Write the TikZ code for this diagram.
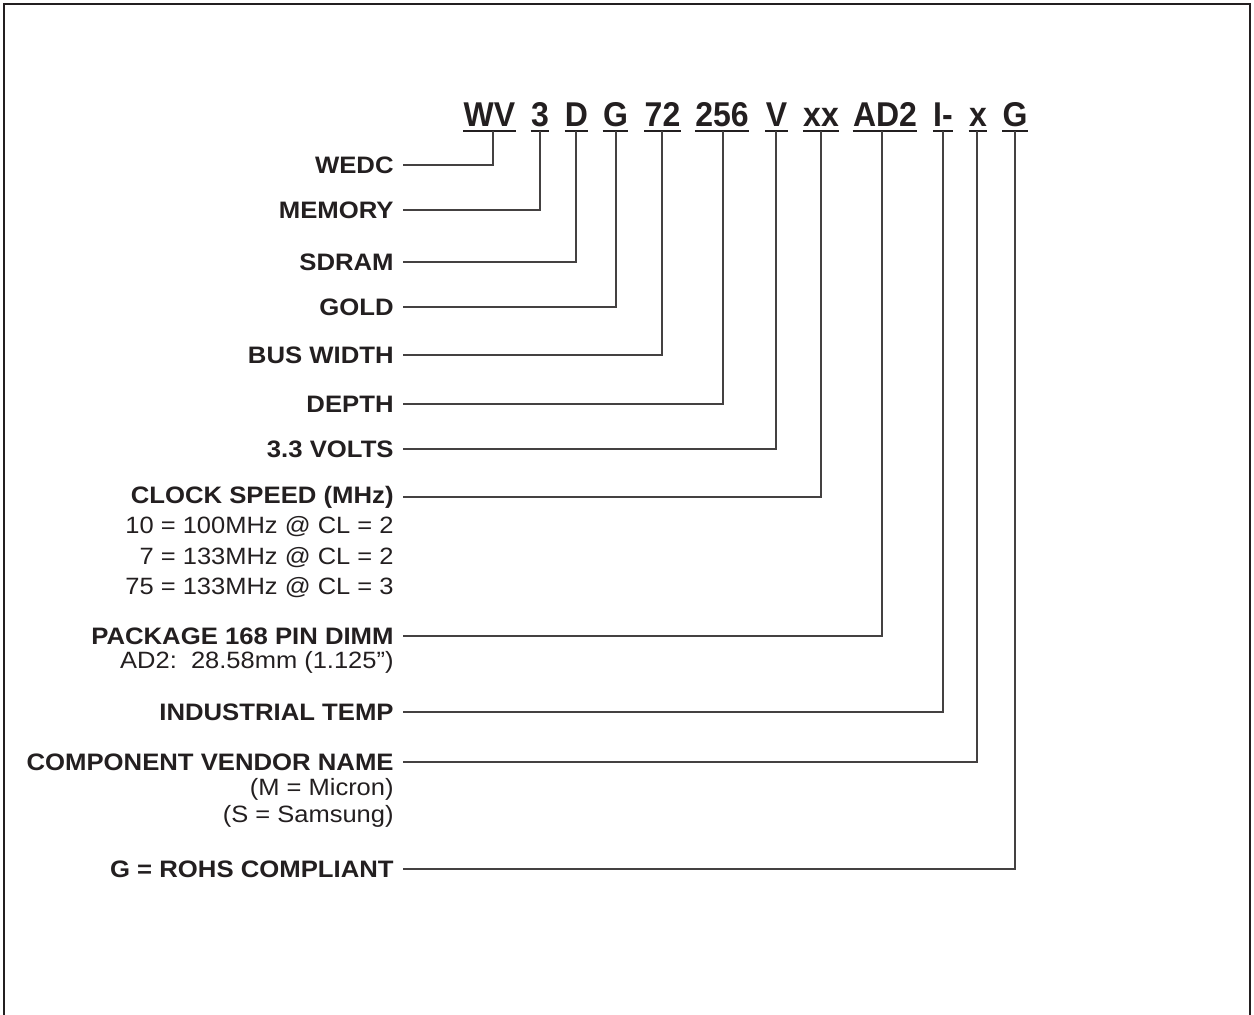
\documentclass[tikz,border=0pt]{standalone}
\usepackage{fontspec}
\setmainfont{Liberation Sans}[FakeStretch=1.08]
\newfontfamily\codefont{Liberation Sans}[FakeStretch=0.93]
\usepackage{tikz}
\definecolor{ink}{HTML}{231F20}
\tikzset{
  part/.style={inner sep=0pt, anchor=base, text=ink, font=\codefont\fontsize{17.2}{19}\selectfont\bfseries},
  field/.style={anchor=east, inner xsep=4.5pt, inner ysep=0pt, text=ink, font=\fontsize{11.9}{13}\selectfont\bfseries},
  note/.style={anchor=east, inner xsep=4.5pt, inner ysep=0pt, text=ink, font=\fontsize{11.8}{13}\selectfont},
  uline/.style={draw=ink, line width=1.35pt},
  lead/.style={draw=ink!85, line width=0.6pt},
}

\begin{document}
\begin{tikzpicture}[x=0.5pt,y=-0.5pt]
    \useasboundingbox (0,0) rectangle (1254,1015);
    \draw[ink, line width=1pt] (4,1015) -- (4,4) -- (1250,4) -- (1250,1015);

    % part number
    \node[part] (WV) at (489.5,127) {WV};
    \node[part] (three) at (540,127) {3};
    \node[part] (D) at (576.5,127) {D};
    \node[part] (G) at (615.5,127) {G};
    \node[part] (bw) at (662.5,127) {72};
    \node[part] (dp) at (722,127) {256};
    \node[part] (V) at (776.5,127) {V};
    \node[part] (xx) at (821,127) {xx};
    \node[part] (AD) at (885,127) {AD2};
    \node[part] (I) at (943,127) {I-};
    \node[part] (x) at (978,127) {x};
    \node[part] (Gr) at (1015,127) {G};
    \foreach \p in {WV,three,D,G,bw,dp,V,xx,AD,I,x,Gr}
        \draw[uline] ([yshift=-2pt]\p.base west) -- ([yshift=-2pt]\p.base east);

    % stems under the part number
    \coordinate (sWV) at (493,131);
    \coordinate (sthree) at (540,131);
    \coordinate (sD) at (576,131);
    \coordinate (sG) at (616,131);
    \coordinate (sbw) at (662,131);
    \coordinate (sdp) at (723,131);
    \coordinate (sV) at (776,131);
    \coordinate (sxx) at (821,131);
    \coordinate (sAD) at (882,131);
    \coordinate (sI) at (943,131);
    \coordinate (sx) at (977,131);
    \coordinate (sGr) at (1015,131);

    % fields
    \node[field] (wedc) at (403,165) {WEDC};
    \node[field] (mem) at (403,210) {MEMORY};
    \node[field] (sdram) at (403,262) {SDRAM};
    \node[field] (gold) at (403,307) {GOLD};
    \node[field] (bus) at (403,355) {BUS WIDTH};
    \node[field] (depth) at (403,404) {DEPTH};
    \node[field] (volts) at (403,449) {3.3 VOLTS};
    \node[field] (clk) at (403,497) {CLOCK SPEED (MHz)};
    \node[note] (clk1) at (403,527) {10 = 100MHz @ CL = 2};
    \node[note] (clk2) at (403,558) {7 = 133MHz @ CL = 2};
    \node[note] (clk3) at (403,588) {75 = 133MHz @ CL = 3};
    \node[field] (pkg) at (403,636) {PACKAGE 168 PIN DIMM};
    \node[note] (pkg1) at (403,662) {AD2:\ \ 28.58mm\ (1.125”)};
    \node[field] (temp) at (403,712) {INDUSTRIAL TEMP};
    \node[field] (vend) at (403,762) {COMPONENT VENDOR NAME};
    \node[note] (vend1) at (403,789) {(M\ = Micron)};
    \node[note] (vend2) at (403,816) {(S = Samsung)};
    \node[field] (rohs) at (403,869) {G = ROHS COMPLIANT};

    % leaders
    \draw[lead] (wedc.east) -| (sWV);
    \draw[lead] (mem.east) -| (sthree);
    \draw[lead] (sdram.east) -| (sD);
    \draw[lead] (gold.east) -| (sG);
    \draw[lead] (bus.east) -| (sbw);
    \draw[lead] (depth.east) -| (sdp);
    \draw[lead] (volts.east) -| (sV);
    \draw[lead] (clk.east) -| (sxx);
    \draw[lead] (pkg.east) -| (sAD);
    \draw[lead] (temp.east) -| (sI);
    \draw[lead] (vend.east) -| (sx);
    \draw[lead] (rohs.east) -| (sGr);
\end{tikzpicture}
\end{document}
